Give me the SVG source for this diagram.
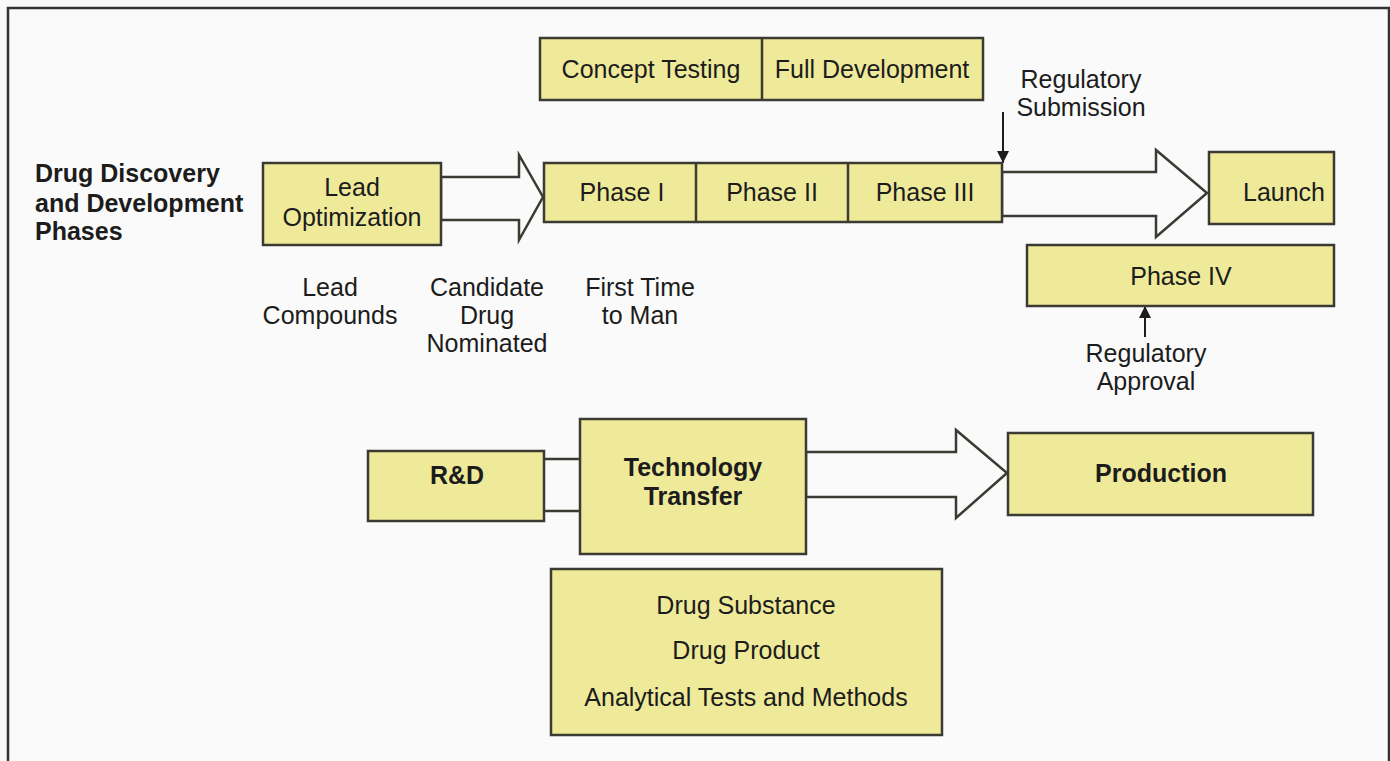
<svg xmlns="http://www.w3.org/2000/svg" width="1390" height="761" viewBox="0 0 1390 761">
  <style>
    .box { fill: #efea9a; stroke: #3b3a33; stroke-width: 2.5; }
    .blk { fill: #fafafa; stroke: #3b3a33; stroke-width: 2.5; stroke-linejoin: miter; }
    .ln { fill: none; stroke: #3b3a33; stroke-width: 2.5; }
    .t { font-family: "Liberation Sans", Arial, sans-serif; font-size: 25px; fill: #1c1c1c; text-anchor: middle; }
    .b { font-weight: bold; }
    .l { text-anchor: start; }
  </style>
  <defs>
    <marker id="tri" markerWidth="14" markerHeight="14" refX="12" refY="6" orient="auto" markerUnits="userSpaceOnUse">
      <path d="M0,0 L12,6 L0,12 Z" fill="#1c1c1c"/>
    </marker>
  </defs>

  <!-- page background and frame -->
  <rect x="0" y="0" width="1390" height="761" fill="#fafafa"/>
  <path d="M8,761 V8 H1389 V761" fill="none" stroke="#333" stroke-width="2.5"/>

  <!-- row heading -->
  <g id="heading">
    <text class="t b l" x="35" y="182">Drug Discovery</text>
    <text class="t b l" x="35" y="212">and Development</text>
    <text class="t b l" x="35" y="240">Phases</text>
  </g>

  <!-- connectors -->
  <g id="connectors">
    <polygon class="blk" points="441,177 519,177 519,155 543,197 519,240 519,220 441,220"/>
    <polygon class="blk" points="1002,172 1156,172 1156,150 1207,193 1156,237 1156,216 1002,216"/>
    <polygon class="blk" points="806,452 956,452 956,430 1007,473 956,518 956,497 806,497"/>
    <line class="ln" x1="544" y1="459" x2="580" y2="459"/>
    <line class="ln" x1="544" y1="511" x2="580" y2="511"/>
    <line x1="1003" y1="112" x2="1003" y2="163" stroke="#1c1c1c" stroke-width="2" marker-end="url(#tri)"/>
    <line x1="1145" y1="337" x2="1145" y2="306" stroke="#1c1c1c" stroke-width="2" marker-end="url(#tri)"/>
  </g>

  <g id="stages">
    <rect class="box" x="540" y="38" width="443" height="62"/>
    <line class="ln" x1="762" y1="38" x2="762" y2="100"/>
    <text class="t" x="651" y="78">Concept Testing</text>
    <text class="t" x="872" y="78">Full Development</text>
  </g>

  <g id="lead-optimization">
    <rect class="box" x="263" y="163" width="178" height="82"/>
    <text class="t" x="352" y="196">Lead</text>
    <text class="t" x="352" y="226">Optimization</text>
  </g>

  <g id="clinical-phases">
    <rect class="box" x="544" y="163" width="458" height="59"/>
    <line class="ln" x1="696" y1="163" x2="696" y2="222"/>
    <line class="ln" x1="848" y1="163" x2="848" y2="222"/>
    <text class="t" x="622" y="201">Phase I</text>
    <text class="t" x="772" y="201">Phase II</text>
    <text class="t" x="925" y="201">Phase III</text>
  </g>

  <g id="launch">
    <rect class="box" x="1209" y="152" width="125" height="72"/>
    <text class="t" x="1284" y="201">Launch</text>
  </g>

  <g id="phase-iv">
    <rect class="box" x="1027" y="245" width="307" height="61"/>
    <text class="t" x="1181" y="285">Phase IV</text>
  </g>

  <g id="milestones">
    <text class="t" x="1081" y="88">Regulatory</text>
    <text class="t" x="1081" y="116">Submission</text>
    <text class="t" x="330" y="296">Lead</text>
    <text class="t" x="330" y="324">Compounds</text>
    <text class="t" x="487" y="296">Candidate</text>
    <text class="t" x="487" y="324">Drug</text>
    <text class="t" x="487" y="352">Nominated</text>
    <text class="t" x="640" y="296">First Time</text>
    <text class="t" x="640" y="324">to Man</text>
    <text class="t" x="1146" y="362">Regulatory</text>
    <text class="t" x="1146" y="390">Approval</text>
  </g>

  <g id="rnd">
    <rect class="box" x="368" y="451" width="176" height="70"/>
    <text class="t b" x="457" y="484">R&amp;D</text>
  </g>

  <g id="technology-transfer">
    <rect class="box" x="580" y="419" width="226" height="135"/>
    <text class="t b" x="693" y="476">Technology</text>
    <text class="t b" x="693" y="505">Transfer</text>
  </g>

  <g id="production">
    <rect class="box" x="1008" y="433" width="305" height="82"/>
    <text class="t b" x="1161" y="482">Production</text>
  </g>

  <g id="transfer-scope">
    <rect class="box" x="551" y="569" width="391" height="166"/>
    <text class="t" x="746" y="614">Drug Substance</text>
    <text class="t" x="746" y="659">Drug Product</text>
    <text class="t" x="746" y="706">Analytical Tests and Methods</text>
  </g>
</svg>
